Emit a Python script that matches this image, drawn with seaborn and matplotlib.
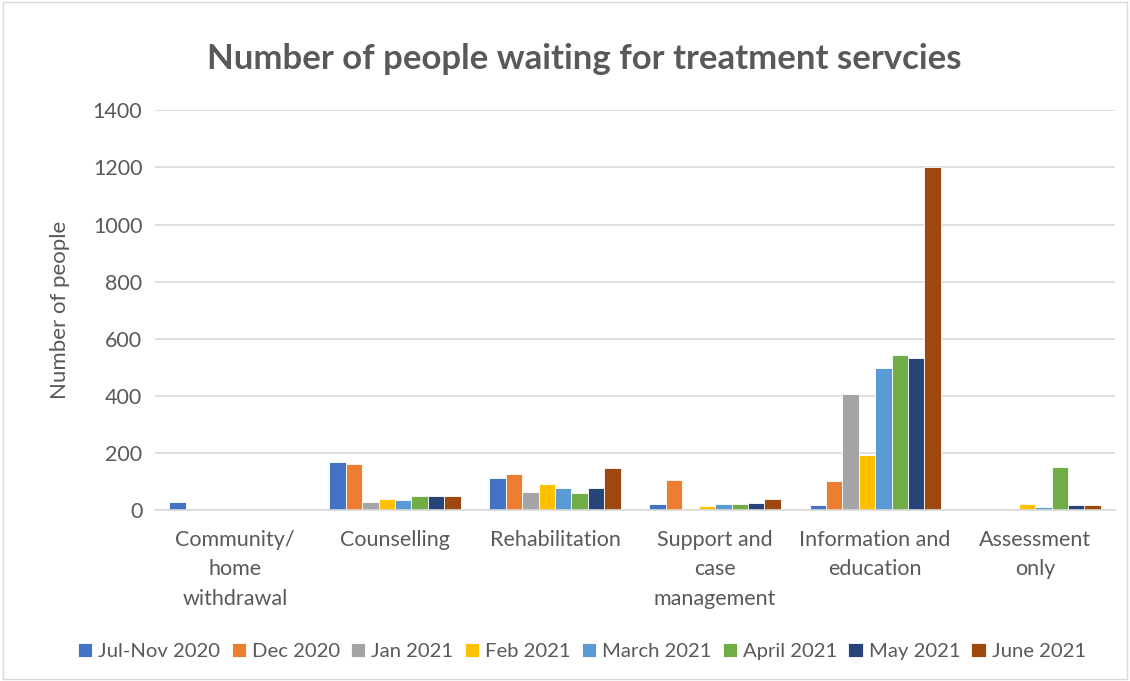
import pandas as pd
import seaborn as sns
import matplotlib.pyplot as plt

services = ["Community/\nhome\nwithdrawal", "Counselling", "Rehabilitation",
            "Support and\ncase\nmanagement", "Information and\neducation", "Assessment\nonly"]
periods = ["Jul-Nov 2020", "Dec 2020", "Jan 2021", "Feb 2021",
           "March 2021", "April 2021", "May 2021", "June 2021"]

jul_nov_2020 = [30, 170, 111, 20, 19, 0]
dec_2020 = [3, 162, 128, 104, 103, 0]
jan_2021 = [0, 28, 65, 0, 405, 0]
feb_2021 = [0, 40, 93, 14, 192, 23]
mar_2021 = [0, 35, 77, 20, 498, 12]
apr_2021 = [0, 50, 61, 20, 543, 150]
may_2021 = [0, 50, 79, 25, 534, 19]
jun_2021 = [0, 50, 147, 38, 1200, 19]

palette = ["#4472C4", "#ED7D31", "#A5A5A5", "#FFC000",
           "#5B9BD5", "#70AD47", "#264478", "#9E480E"]

series = [jul_nov_2020, dec_2020, jan_2021, feb_2021, mar_2021, apr_2021, may_2021, jun_2021]
rows = []
for p, vals in zip(periods, series):
    for s, v in zip(services, vals):
        rows.append({"service": s, "period": p, "people": v})
df = pd.DataFrame(rows)

sns.set_style("white")
plt.rcParams['font.family'] = ['Lato', 'DejaVu Sans']
grey = "#595959"

fig = plt.figure(figsize=(11.3, 6.81), dpi=100)
ax = fig.add_axes([0.137, 0.251, 0.850, 0.587])

sns.barplot(data=df, x="service", y="people", hue="period", order=services,
            hue_order=periods, palette=palette, saturation=1, width=0.82, gap=0,
            edgecolor="white", linewidth=0.6, ax=ax, legend=True)

ax.set_ylim(0, 1400)
ax.set_yticks(range(0, 1401, 200))
ax.yaxis.grid(True, color="#D9D9D9", linewidth=1.2)
ax.set_axisbelow(True)
for sp in ["top", "right", "left"]:
    ax.spines[sp].set_visible(False)
ax.spines["bottom"].set_color("#D9D9D9")
ax.spines["bottom"].set_linewidth(1.2)
ax.tick_params(axis="y", length=0, labelsize=15.5, colors=grey, pad=9)
ax.tick_params(axis="x", length=0, labelsize=15.5, colors=grey, pad=14)
ax.set_xlabel("")
ax.set_ylabel("Number of people", fontsize=16, color=grey, labelpad=16)
for lbl in ax.get_xticklabels():
    lbl.set_linespacing(1.6)
    lbl.set_verticalalignment("top")

fig.suptitle("Number of people waiting for treatment servcies", fontsize=25,
             fontweight="bold", color=grey, x=0.517, y=0.937)

handles, labels = ax.get_legend_handles_labels()
ax.legend_.remove()
fig.legend(handles, labels, loc="center", bbox_to_anchor=(0.515, 0.043), ncol=8,
           frameon=False, fontsize=14.6, labelcolor=grey, handlelength=0.7,
           handleheight=0.7, handletextpad=0.3, columnspacing=0.55)

border = plt.Rectangle((0.003, 0.003), 0.994, 0.994, transform=fig.transFigure,
                       fill=False, edgecolor="#D9D9D9", linewidth=1)
fig.patches.append(border)

plt.savefig("out.png", dpi=100)
